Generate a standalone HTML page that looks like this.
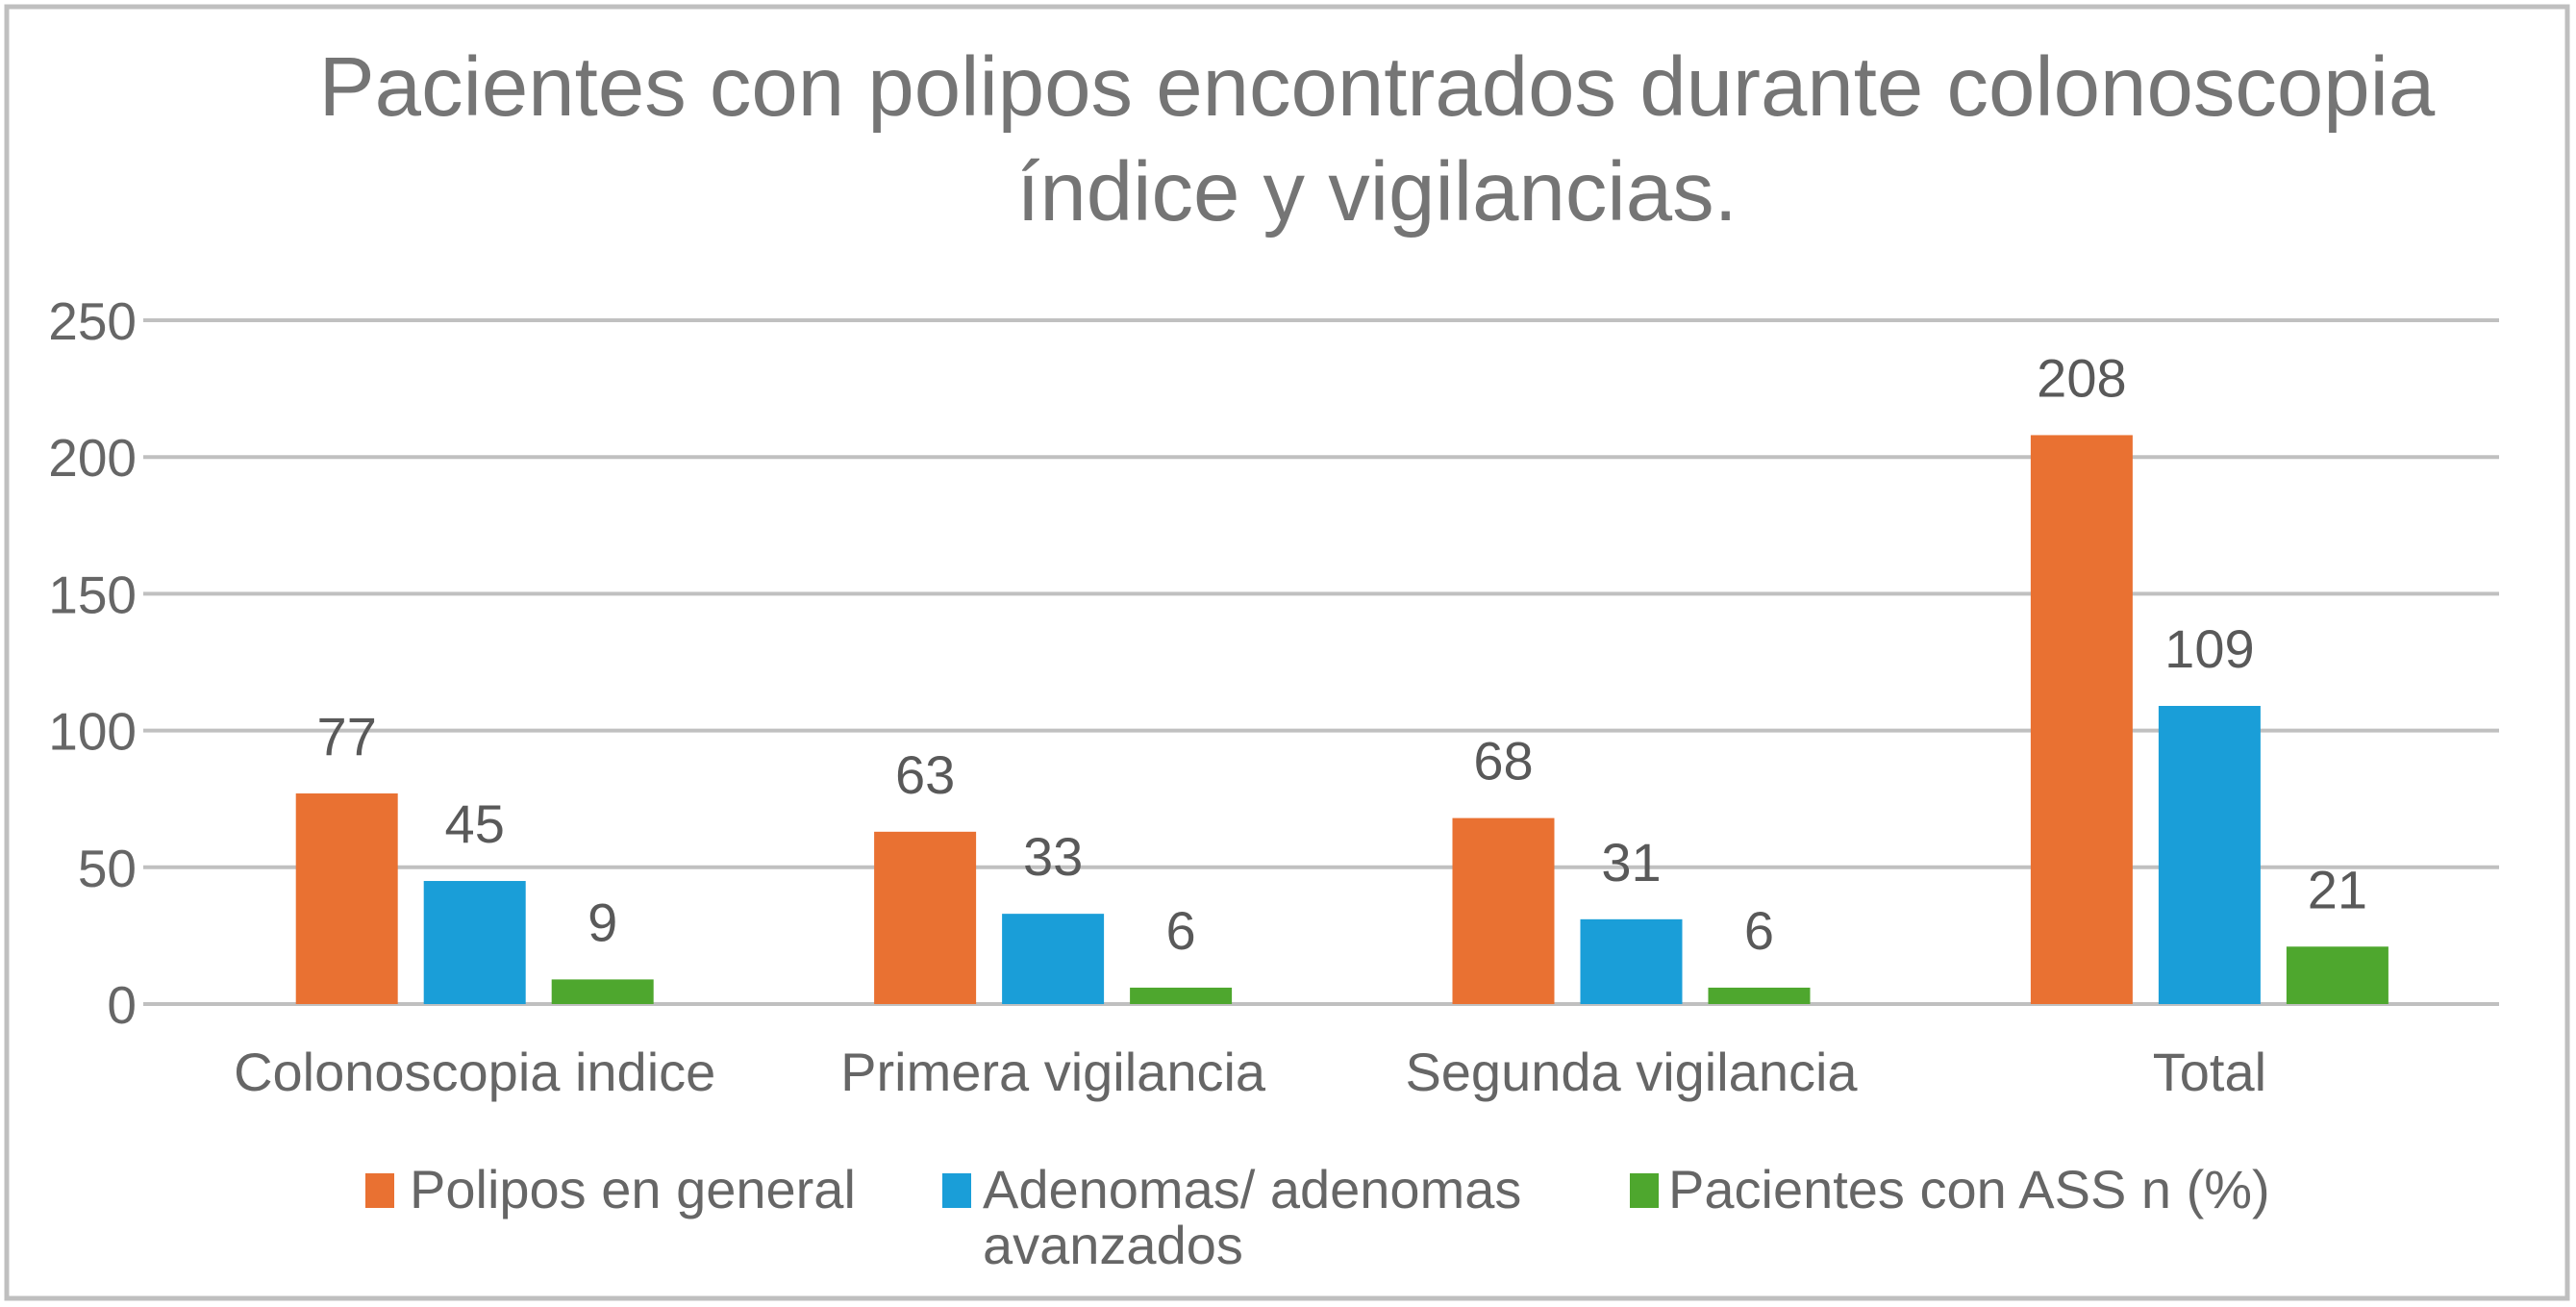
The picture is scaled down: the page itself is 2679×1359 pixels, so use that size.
<!DOCTYPE html>
<html><head><meta charset="utf-8"><style>
body{margin:0;background:#fff;}
svg{display:block;font-family:"Liberation Sans",Arial,sans-serif;}
</style></head><body>
<svg id="chart" width="2679" height="1359">
<rect x="7" y="7" width="2663" height="1343" fill="#fff" stroke="#bfbfbf" stroke-width="5"/>
<text x="1432" y="120" text-anchor="middle" font-size="87" fill="#757575">Pacientes con polipos encontrados durante colonoscopia</text>
<text x="1432" y="229" text-anchor="middle" font-size="87" fill="#757575">índice y vigilancias.</text>
<g id="grid"></g><g id="bars"></g>
<g>
<rect x="380" y="1220" width="30" height="36" fill="#E97132"/>
<text x="426" y="1256" font-size="56" fill="#666">Polipos en general</text>
<rect x="980" y="1220" width="30" height="36" fill="#1A9ED8"/>
<text x="1022" y="1256" font-size="56" fill="#666">Adenomas/ adenomas</text>
<text x="1022" y="1314" font-size="56" fill="#666">avanzados</text>
<rect x="1695" y="1220" width="30" height="36" fill="#4EA72E"/>
<text x="1735" y="1256" font-size="56" fill="#666">Pacientes con ASS n (%)</text>
</g>
</svg>
<script>
const categories=["Colonoscopia indice","Primera vigilancia","Segunda vigilancia","Total"];
const polipos=[77,63,68,208];
const adenomas=[45,33,31,109];
const ass=[9,6,6,21];
const yTicks=[0,50,100,150,200,250];
const NS="http://www.w3.org/2000/svg";
const y0=1044,y1=333,yMax=250;
const plotX0=193,band=601.4,gridL=149,gridR=2599;
function yS(v){return y0-(y0-y1)*v/yMax;}
function xC(i){return plotX0+band*(i+0.5);}
function mk(t,a,p){const e=document.createElementNS(NS,t);for(const k in a)e.setAttribute(k,a[k]);p.appendChild(e);return e;}
const grid=document.getElementById('grid'),bars=document.getElementById('bars');
yTicks.forEach(t=>{
 const l=mk('line',{x1:gridL,x2:gridR,y1:yS(t),y2:yS(t),stroke:'#c0c0c0','stroke-width':4},grid);
 
 
 const tx=mk('text',{x:142,y:yS(t)+20,'text-anchor':'end','font-size':55,fill:'#666'},grid);
 tx.textContent=t;
 
 
});
const series=[[polipos,'#E97132','polipos'],[adenomas,'#1A9ED8','adenomas'],[ass,'#4EA72E','ass']];
const bw=106,step=133;
categories.forEach((c,i)=>{
 series.forEach((s,j)=>{
  const v=s[0][i],cx=xC(i)+(j-1)*step;
  const r=mk('rect',{x:cx-bw/2,y:yS(v),width:bw,height:y0-yS(v),fill:s[1]},bars);
  
  
  const t=mk('text',{x:cx,y:yS(v)-40,'text-anchor':'middle','font-size':56,fill:'#595959'},bars);
  t.textContent=v;
  
  
 });
 const ct=mk('text',{x:xC(i),y:1134,'text-anchor':'middle','font-size':56,fill:'#666'},bars);
 ct.textContent=c;
 
 
});
</script>
</body></html>
